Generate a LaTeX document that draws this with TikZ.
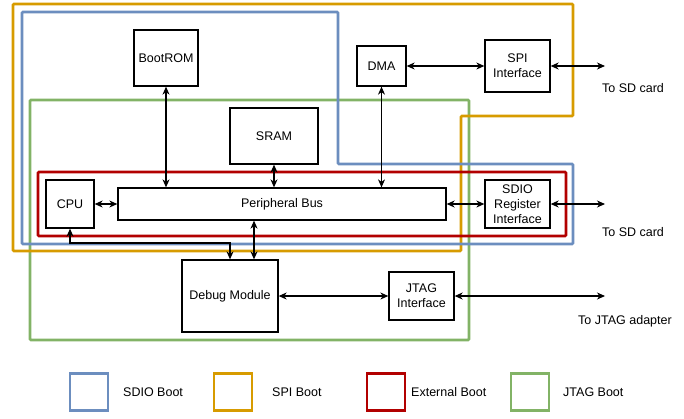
\documentclass[tikz,border=0pt]{standalone}
\usepackage{fontspec}
\setmainfont{Liberation Sans}
\usetikzlibrary{arrows.meta}
\definecolor{sdio}{HTML}{6C8EBF}
\definecolor{spi}{HTML}{D79B00}
\definecolor{ext}{HTML}{B20000}
\definecolor{jtag}{HTML}{82B366}
\tikzset{
  box/.style={draw=black, fill=white, line width=1.3pt, inner sep=1pt, align=center, font=\fontsize{12.5}{15}\selectfont},
  frame/.style={line width=2.6pt, rounded corners=1pt},
  arr/.style={line width=1.1pt, {Stealth[length=8pt,width=7pt,inset=2.5pt]}-{Stealth[length=8pt,width=7pt,inset=2.5pt]}},
  lbl/.style={font=\fontsize{12.5}{15}\selectfont},
  legbox/.style={line width=2.6pt, minimum width=38pt, minimum height=37pt, inner sep=0pt}
}
\begin{document}
\begin{tikzpicture}[x=1pt,y=-1pt]
\useasboundingbox (0,0) rectangle (684,418);
% group frames
\draw[frame, jtag] (30,100) rectangle (469,340);
\draw[frame, spi] (13,4) -- (573,4) -- (573,116) -- (461,116) -- (461,251) -- (13,251) -- cycle;
\draw[frame, sdio] (22,12) -- (338,12) -- (338,164) -- (573,164) -- (573,244) -- (22,244) -- cycle;
\draw[frame, ext] (38,172) rectangle (566,236);
% blocks
\node[box, minimum width=64pt, minimum height=56pt] (bootrom) at (166,58) {BootROM};
\node[box, minimum width=88pt, minimum height=56pt] (sram) at (274,136) {SRAM};
\node[box, minimum width=48pt, minimum height=48pt] (cpu) at (70,204) {CPU};
\node[box, minimum width=328pt, minimum height=32pt] (bus) at (282,204) {Peripheral Bus};
\node[box, minimum width=49pt, minimum height=40pt] (dma) at (381.5,66) {DMA};
\node[box, minimum width=65pt, minimum height=52pt] (spiif) at (517.5,66) {SPI\\Interface};
\node[box, minimum width=65pt, minimum height=48pt] (sdioif) at (517.5,204) {SDIO\\Register\\Interface};
\node[box, minimum width=96pt, minimum height=72pt] (debug) at (230,296) {Debug Module};
\node[box, minimum width=65pt, minimum height=48pt] (jtagif) at (421.5,296) {JTAG\\Interface};
% free ends
\coordinate (sd1) at (605,66);
\coordinate (sd2) at (605,204);
\coordinate (jtagout) at (605,296);
\coordinate (bend) at (0,243);
% connectors
\draw[arr] (bootrom.south) -- (bootrom.south |- bus.north);
\draw[arr] (sram.south) -- (sram.south |- bus.north);
\draw[arr] (dma.south) -- (dma.south |- bus.north);
\draw[arr] (dma.east) -- (spiif.west);
\draw[arr] (spiif.east) -- (sd1);
\draw[arr] (cpu.east) -- (cpu.east -| bus.west);
\draw[arr] (bus.east) -- (bus.east -| sdioif.west);
\draw[arr] (sdioif.east) -- (sd2);
\draw[arr] (cpu.south) -- (cpu.south |- bend) -- (debug.north |- bend) -- (debug.north);
\draw[arr] ([xshift=24pt]debug.north) -- ([xshift=24pt]debug.north |- bus.south);
\draw[arr] (debug.east) -- (debug.east -| jtagif.west);
\draw[arr] (jtagif.east) -- (jtagout);
% labels
\node[lbl] (t1) at (633,88) {To SD card};
\node[lbl] (t2) at (633,232) {To SD card};
\node[lbl] (t3) at (625,321) {To JTAG adapter};
% legend
\node[legbox, draw=sdio] (l1) at (89,392) {};
\node[legbox, draw=spi] (l2) at (233,392) {};
\node[legbox, draw=ext] (l3) at (386,392) {};
\node[legbox, draw=jtag] (l4) at (530,392) {};
\node[lbl, anchor=west, inner sep=0pt] (lt1) at (123,392) {SDIO Boot};
\node[lbl, anchor=west, inner sep=0pt] (lt2) at (272,392) {SPI Boot};
\node[lbl, anchor=west, inner sep=0pt] (lt3) at (411,392) {External Boot};
\node[lbl, anchor=west, inner sep=0pt] (lt4) at (563,392) {JTAG Boot};
\end{tikzpicture}
\end{document}
